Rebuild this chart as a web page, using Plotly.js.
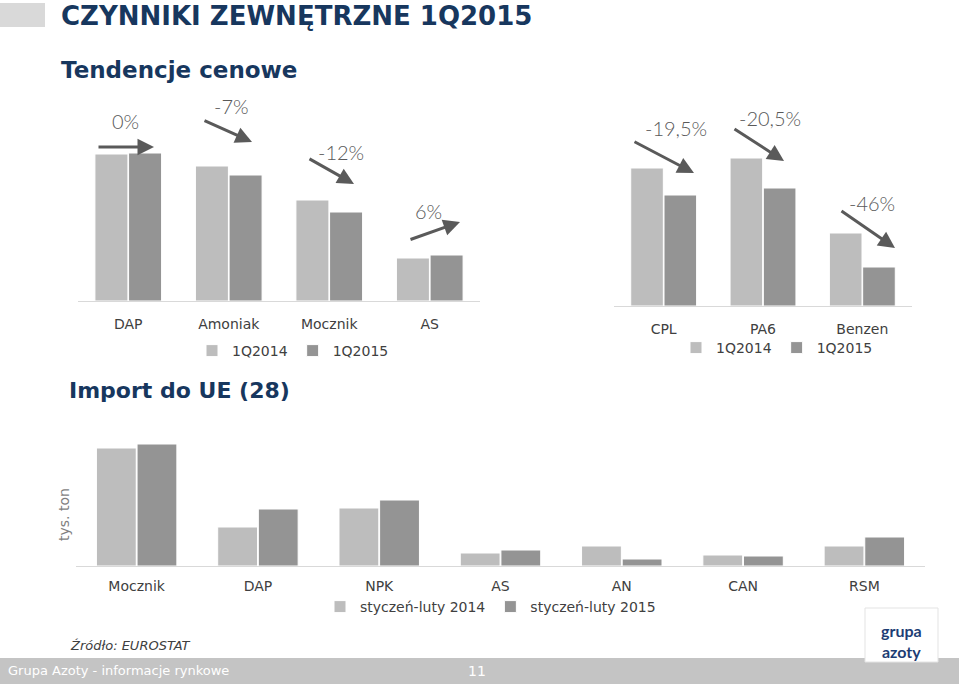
<!DOCTYPE html>
<html>
<head>
<meta charset="utf-8">
<script src="https://cdn.plot.ly/plotly-3.0.1.min.js"></script>
<style>
  html, body { margin: 0; padding: 0; background: #fff; }
  #chart { width: 959px; height: 684px; }
</style>
</head>
<body>
<div id="chart"></div>
<script>
// Tendencje cenowe - nawozy
const fertCats = ['DAP', 'Amoniak', 'Mocznik', 'AS'];
const fert2014 = [147, 135, 101, 43];
const fert2015 = [148, 126, 89, 46];
const fertChange = ['0%', '-7%', '-12%', '6%'];

// Tendencje cenowe - chemia
const chemCats = ['CPL', 'PA6', 'Benzen'];
const chem2014 = [138, 148, 73];
const chem2015 = [111, 118, 39];
const chemChange = ['-19,5%', '-20,5%', '-46%'];

// Import do UE (28), tys. ton
const impCats = ['Mocznik', 'DAP', 'NPK', 'AS', 'AN', 'CAN', 'RSM'];
const imp2014 = [118, 39, 58, 13, 20, 11, 20];
const imp2015 = [122, 57, 66, 16, 7, 10, 29];

const W = 959, H = 684;
const px = x => x / W;
const py = y => 1 - y / H;

const light = '#bdbdbd';
const dark = '#949494';
const textGrey = '#404040';
const blue = '#17375e';
const font = 'DejaVu Sans';

function bar(x, y, name, color, xa, ya, legend) {
    return {
        type: 'bar', x: x, y: y, name: name,
        xaxis: xa, yaxis: ya, legend: legend,
        marker: { color: color, line: { color: '#ffffff', width: 1 } },
        hoverinfo: 'skip'
    };
}

const data = [
    bar(fertCats, fert2014, '1Q2014', light, 'x', 'y', 'legend'),
    bar(fertCats, fert2015, '1Q2015', dark, 'x', 'y', 'legend'),
    bar(chemCats, chem2014, '1Q2014', light, 'x2', 'y2', 'legend2'),
    bar(chemCats, chem2015, '1Q2015', dark, 'x2', 'y2', 'legend2'),
    bar(impCats, imp2014, 'styczeń-luty 2014', light, 'x3', 'y3', 'legend3'),
    bar(impCats, imp2015, 'styczeń-luty 2015', dark, 'x3', 'y3', 'legend3')
];

function xAxis(d0, d1, anchor, standoff) {
    return {
        domain: [px(d0), px(d1)], anchor: anchor, type: 'category',
        showline: true, linecolor: '#d9d9d9', linewidth: 1,
        ticks: '', ticklabelstandoff: standoff, showgrid: false, zeroline: false,
        tickfont: { family: font, size: 14, color: textGrey }, fixedrange: true
    };
}
function yAxis(base, top, maxv, anchor) {
    return {
        domain: [py(base), py(top)], anchor: anchor, range: [0, maxv],
        showticklabels: false, showgrid: false, zeroline: false, showline: false,
        ticks: '', fixedrange: true
    };
}
function legendAt(x, y) {
    return {
        orientation: 'h', x: px(x), y: py(y), xanchor: 'left', yanchor: 'middle',
        font: { family: font, size: 14, color: textGrey }, itemwidth: 30,
        bgcolor: 'rgba(0,0,0,0)', tracegroupgap: 0
    };
}

const annotations = [];
function text(t, x, y, size, color, opts) {
    annotations.push(Object.assign({
        text: t, x: px(x), y: py(y), xref: 'paper', yref: 'paper',
        showarrow: false, xanchor: 'left', yanchor: 'middle',
        font: { family: font, size: size, color: color }
    }, opts || {}));
}
function arrow(tx, ty, hx, hy) {
    annotations.push({
        text: '', x: px(hx), y: py(hy), xref: 'paper', yref: 'paper',
        ax: tx - hx, ay: ty - hy, axref: 'pixel', ayref: 'pixel',
        showarrow: true, arrowhead: 2, arrowsize: 1.1, arrowwidth: 3, arrowcolor: '#5a5a5a'
    });
}

// titles
text('<b>CZYNNIKI ZEWNĘTRZNE 1Q2015</b>', 59, 16, 26, blue);
text('<b>Tendencje cenowe</b>', 59, 70, 23, blue);
text('<b>Import do UE (28)</b>', 67, 390, 22, blue);

// percent labels + arrows
const pctFont = 'Lato';
const fertLabelPos = [[125, 121], [231, 106], [341, 152], [428, 211]];
const chemLabelPos = [[676, 128], [770, 118], [872, 203]];
const pctStyle = { xanchor: 'center', font: { family: pctFont, size: 20, color: '#595959', weight: 300 } };
fertChange.forEach((t, i) => text(t, fertLabelPos[i][0], fertLabelPos[i][1], 20, '#595959', pctStyle));
chemChange.forEach((t, i) => text(t, chemLabelPos[i][0], chemLabelPos[i][1], 20, '#595959', pctStyle));
arrow(97, 147, 154, 147);
arrow(203, 120, 252, 142);
arrow(308, 158, 354, 184);
arrow(409, 240, 460, 222);
arrow(633, 141, 694, 173);
arrow(733, 128, 784, 161);
arrow(840, 210, 895, 248);

// y title, source, footer
text('tys. ton', 64, 515, 14, '#7f7f7f', { xanchor: 'center', textangle: -90 });
text('<i>Źródło: EUROSTAT</i>', 68, 645, 13, '#404040');
text('Grupa Azoty - informacje rynkowe', 6, 670, 13, '#ffffff');
text('11', 477, 671, 14, '#ffffff', { xanchor: 'center' });
text('<b>grupa<br>azoty</b>', 901, 641, 15, '#1d3d74', { xanchor: 'center', align: 'center', font: { family: 'Lato', size: 16, color: '#1d3d74' } });

const shapes = [
    { type: 'rect', xref: 'paper', yref: 'paper', x0: px(0), x1: px(45), y0: py(27), y1: py(3), fillcolor: '#d9d9d9', line: { width: 0 }, layer: 'below' },
    { type: 'rect', xref: 'paper', yref: 'paper', x0: 0, x1: 1, y0: 0, y1: py(658), fillcolor: '#c4c4c4', line: { width: 0 }, layer: 'below' },
    { type: 'rect', xref: 'paper', yref: 'paper', x0: px(865), x1: px(938), y0: py(662), y1: py(608), fillcolor: '#ffffff', line: { color: '#e3e3e3', width: 1 } }
];

const layout = {
    width: W, height: H,
    margin: { l: 0, r: 0, t: 0, b: 0 },
    paper_bgcolor: '#ffffff', plot_bgcolor: 'rgba(0,0,0,0)',
    barmode: 'group', bargap: 0.33, bargroupgap: 0.02,
    showlegend: true,
    xaxis: xAxis(78, 480, 'y', 10),
    yaxis: yAxis(301, 100, 201, 'x'),
    xaxis2: xAxis(614, 912, 'y2', 10),
    yaxis2: yAxis(306, 100, 206, 'x2'),
    xaxis3: xAxis(76, 925, 'y3', 7),
    yaxis3: yAxis(566, 430, 136, 'x3'),
    legend: legendAt(192, 351),
    legend2: legendAt(676, 348),
    legend3: legendAt(320, 607),
    annotations: annotations,
    shapes: shapes
};

Plotly.newPlot('chart', data, layout, { displayModeBar: false, staticPlot: true });
</script>
</body>
</html>
